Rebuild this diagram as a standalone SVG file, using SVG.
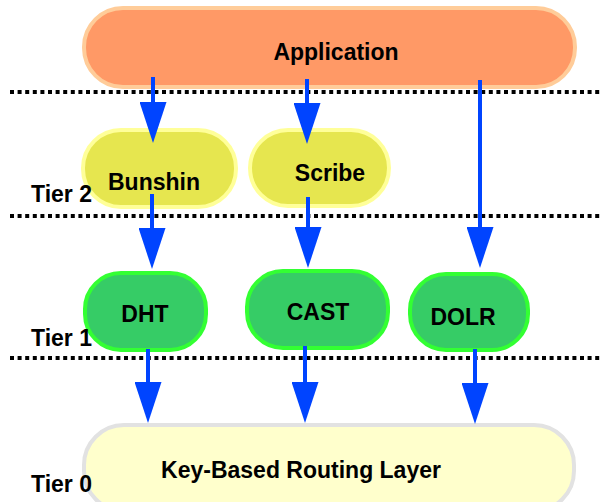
<svg xmlns="http://www.w3.org/2000/svg" width="600" height="502" viewBox="0 0 600 502">
  <style>
    .lbl { font-family: "Liberation Sans", Arial, sans-serif; font-weight: bold; font-size: 23px; fill: #000; }
    .mid { text-anchor: middle; }
    .tier { fill: none; stroke: #000; stroke-width: 4; stroke-dasharray: 4 3.6; }
    .app { fill: #FF9966; stroke: #FFCC99; stroke-width: 4; }
    .svc { fill: #E6E64F; stroke: #FFFF99; stroke-width: 4; }
    .prim { fill: #36CC66; stroke: #33FF33; stroke-width: 4; }
    .kbr { fill: #FFFFCC; stroke: #E2E2E2; stroke-width: 4; }
    .edge { stroke: #0044FF; stroke-width: 4; fill: none; marker-end: url(#head); }
  </style>
  <defs>
    <marker id="head" viewBox="0 0 41 27" refX="11" refY="13.5" markerWidth="41" markerHeight="27" markerUnits="userSpaceOnUse" orient="auto">
      <path d="M0,0 L41,13.5 L0,27 Z" fill="#0044FF"/>
    </marker>
  </defs>

  <!-- tier separators -->
  <g id="tiers">
    <line class="tier" x1="10" y1="92" x2="600" y2="92"/>
    <line class="tier" x1="10" y1="216" x2="600" y2="216"/>
    <line class="tier" x1="10" y1="358" x2="600" y2="358"/>
  </g>

  <g id="application">
    <rect class="app" x="84" y="8" width="491" height="79" rx="39"/>
    <text class="lbl mid" x="336" y="60">Application</text>
  </g>
  <g id="bunshin">
    <rect class="svc" x="83" y="130" width="153" height="77" rx="38"/>
    <text class="lbl mid" x="154" y="190">Bunshin</text>
  </g>
  <g id="scribe">
    <rect class="svc" x="250" y="130" width="139" height="76" rx="38"/>
    <text class="lbl mid" x="330" y="181">Scribe</text>
  </g>
  <g id="dht">
    <rect class="prim" x="85" y="273" width="121" height="77" rx="36"/>
    <text class="lbl mid" x="145" y="322">DHT</text>
  </g>
  <g id="cast">
    <rect class="prim" x="247" y="271" width="141" height="77" rx="36"/>
    <text class="lbl mid" x="318" y="320">CAST</text>
  </g>
  <g id="dolr">
    <rect class="prim" x="410" y="274" width="118" height="76" rx="36"/>
    <text class="lbl mid" x="463" y="325">DOLR</text>
  </g>
  <g id="kbr">
    <rect class="kbr" x="84" y="425" width="490" height="86" rx="40"/>
    <text class="lbl mid" x="301" y="478">Key-Based Routing Layer</text>
  </g>

  <!-- connectors -->
  <g id="connectors">
    <line class="edge" x1="153" y1="77" x2="153" y2="113"/>
    <line class="edge" x1="307" y1="79" x2="307" y2="114"/>
    <line class="edge" x1="480" y1="80" x2="480" y2="238"/>
    <line class="edge" x1="152" y1="194" x2="152" y2="239"/>
    <line class="edge" x1="308" y1="197" x2="308" y2="238"/>
    <line class="edge" x1="148" y1="349" x2="148" y2="393"/>
    <line class="edge" x1="305" y1="346" x2="305" y2="393"/>
    <line class="edge" x1="475" y1="349" x2="475" y2="394"/>
  </g>

  <g id="tier-labels">
    <text class="lbl" x="31" y="202">Tier 2</text>
    <text class="lbl" x="31" y="346">Tier 1</text>
    <text class="lbl" x="31" y="492">Tier 0</text>
  </g>
</svg>
